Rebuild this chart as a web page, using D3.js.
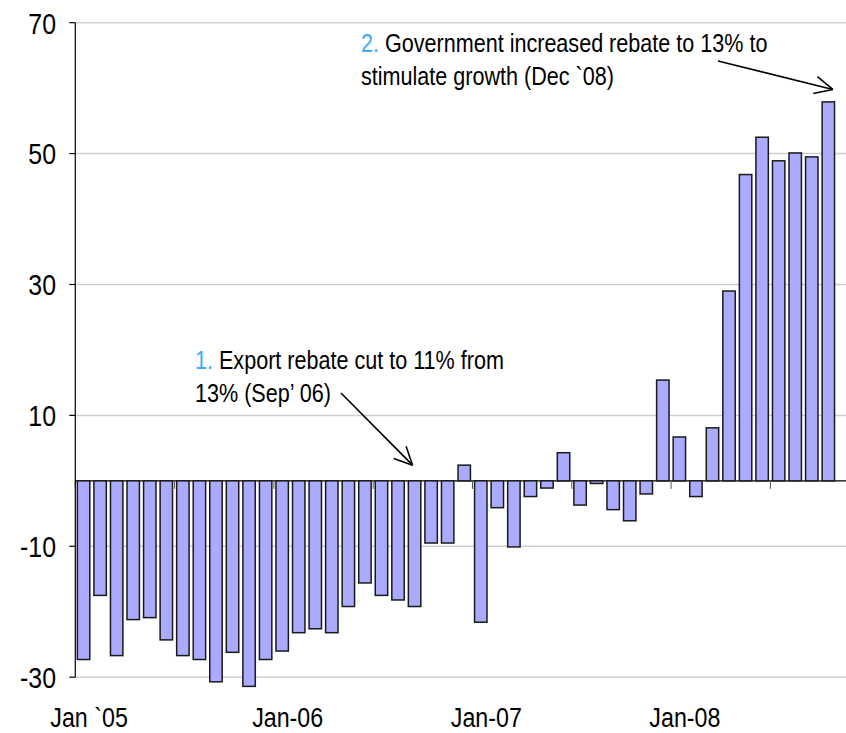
<!DOCTYPE html>
<html>
<head>
<meta charset="utf-8">
<script src="https://cdn.jsdelivr.net/npm/d3@7"></script>
<style>
  html, body { margin: 0; padding: 0; background: #ffffff; }
  svg { display: block; }
  text { font-family: "Liberation Sans", Arial, sans-serif; fill: #000; }
</style>
</head>
<body>
<svg id="chart" width="846" height="733"></svg>
<script>
// ---------- data ----------
const categories = [
  "Jan-05","Feb-05","Mar-05","Apr-05","May-05","Jun-05","Jul-05","Aug-05","Sep-05","Oct-05","Nov-05","Dec-05",
  "Jan-06","Feb-06","Mar-06","Apr-06","May-06","Jun-06","Jul-06","Aug-06","Sep-06","Oct-06","Nov-06","Dec-06",
  "Jan-07","Feb-07","Mar-07","Apr-07","May-07","Jun-07","Jul-07","Aug-07","Sep-07","Oct-07","Nov-07","Dec-07",
  "Jan-08","Feb-08","Mar-08","Apr-08","May-08","Jun-08","Jul-08","Aug-08","Sep-08","Oct-08"
];
const values = [
  -27.3, -17.5, -26.7, -21.2, -20.9, -24.3, -26.7, -27.3, -30.7, -26.2, -31.4, -27.3,
  -26.0, -23.2, -22.6, -23.2, -19.2, -15.6, -17.5, -18.2, -19.2, -9.5, -9.5, 2.4,
  -21.6, -4.1, -10.1, -2.4, -1.1, 4.3, -3.7, -0.4, -4.4, -6.1, -2.0, 15.4,
  6.7, -2.4, 8.1, 29.0, 46.8, 52.5, 48.9, 50.1, 49.5, 57.9
];
const yTicks = [-30, -10, 10, 30, 50, 70];
const xLabelCats = ["Jan-05", "Jan-06", "Jan-07", "Jan-08"];
const xLabelTexts = ["Jan `05", "Jan-06", "Jan-07", "Jan-08"];
const xTickEvery = 6;

const annotations = [
  { num: "1.", lines: ["Export rebate cut to 11% from", "13% (Sep\u2019 06)"], target: "Sep-06", value: 2.4,
    tx: 195, ty: 369, from: [341, 393], dx: -2, dy: 0 },
  { num: "2.", lines: ["Government increased rebate to 13% to", "stimulate growth (Dec `08)"], target: "Oct-08", value: 59.8,
    tx: 361, ty: 52, from: [718, 61], dx: 4.5, dy: 0 }
];

// ---------- layout ----------
const svg = d3.select("#chart");
const left = 75.3, step = 16.55;
const x = d3.scaleBand()
  .domain(categories)
  .range([left, left + categories.length * step])
  .paddingInner(0.25)
  .paddingOuter(0.125);
const y = d3.scaleLinear().domain([-30, 70]).range([677.2, 22.7]);
const rightEdge = 846;
const condense = 0.83;

// gridlines
svg.append("g").selectAll("line").data(yTicks).join("line")
  .attr("x1", left).attr("x2", rightEdge)
  .attr("y1", d => y(d)).attr("y2", d => y(d))
  .attr("stroke", "#cfcfcf").attr("stroke-width", 1.5);

// zero line
svg.append("line")
  .attr("x1", left).attr("x2", rightEdge)
  .attr("y1", y(0)).attr("y2", y(0))
  .attr("stroke", "#000").attr("stroke-width", 1.3);

// x tick marks at category boundaries every 6 months
const boundaries = d3.range(0, categories.length + 1, xTickEvery);
svg.append("g").selectAll("line").data(boundaries).join("line")
  .attr("x1", d => left + d * x.step()).attr("x2", d => left + d * x.step())
  .attr("y1", y(0)).attr("y2", y(0) + 8)
  .attr("stroke", "#555").attr("stroke-width", 1);

// bars
svg.append("g").selectAll("rect").data(values).join("rect")
  .attr("x", (d, i) => x(categories[i]))
  .attr("width", x.bandwidth())
  .attr("y", d => y(Math.max(0, d)))
  .attr("height", d => Math.abs(y(d) - y(0)))
  .attr("fill", "#aaaaff")
  .attr("stroke", "#1a1a1a")
  .attr("stroke-width", 1.5);

// y axis
svg.append("line")
  .attr("x1", left).attr("x2", left)
  .attr("y1", y(70)).attr("y2", y(-30))
  .attr("stroke", "#000").attr("stroke-width", 1.2);
svg.append("g").selectAll("line").data(yTicks).join("line")
  .attr("x1", left - 6).attr("x2", left)
  .attr("y1", d => y(d)).attr("y2", d => y(d))
  .attr("stroke", "#000").attr("stroke-width", 1.2);
svg.append("g").selectAll("text").data(yTicks).join("text")
  .attr("transform", d => `translate(56,${y(d) + 10.8}) scale(${condense},1)`)
  .attr("text-anchor", "end")
  .style("font-size", "30px")
  .text(d => d);

// x labels
svg.append("g").selectAll("text").data(xLabelCats).join("text")
  .attr("transform", (d, i) => `translate(${x(d) + x.bandwidth() / 2 + 5.5},726.5) scale(${condense},1)`)
  .attr("text-anchor", "middle")
  .style("font-size", "28px")
  .text((d, i) => xLabelTexts[i]);

// annotations
annotations.forEach(a => {
  const t = svg.append("text")
    .attr("transform", `translate(${a.tx},${a.ty}) scale(${condense},1)`)
    .style("font-size", "26px");
  t.append("tspan").attr("x", 0).attr("y", 0).style("fill", "#3fa9f5").text(a.num);
  t.append("tspan").text(" " + a.lines[0]);
  t.append("tspan").attr("x", 0).attr("y", 33).text(a.lines[1]);

  const tipX = x(a.target) + x.bandwidth() / 2 + a.dx;
  const tipY = y(a.value) + a.dy;
  const [fx, fy] = a.from;
  svg.append("line")
    .attr("x1", fx).attr("y1", fy).attr("x2", tipX).attr("y2", tipY)
    .attr("stroke", "#000").attr("stroke-width", 1.6);
  const ang = Math.atan2(tipY - fy, tipX - fx);
  const L = 20, spread = 0.45;
  [ang + Math.PI - spread, ang + Math.PI + spread].forEach(b => {
    svg.append("line")
      .attr("x1", tipX).attr("y1", tipY)
      .attr("x2", tipX + L * Math.cos(b)).attr("y2", tipY + L * Math.sin(b))
      .attr("stroke", "#000").attr("stroke-width", 1.6);
  });
});
</script>
</body>
</html>
